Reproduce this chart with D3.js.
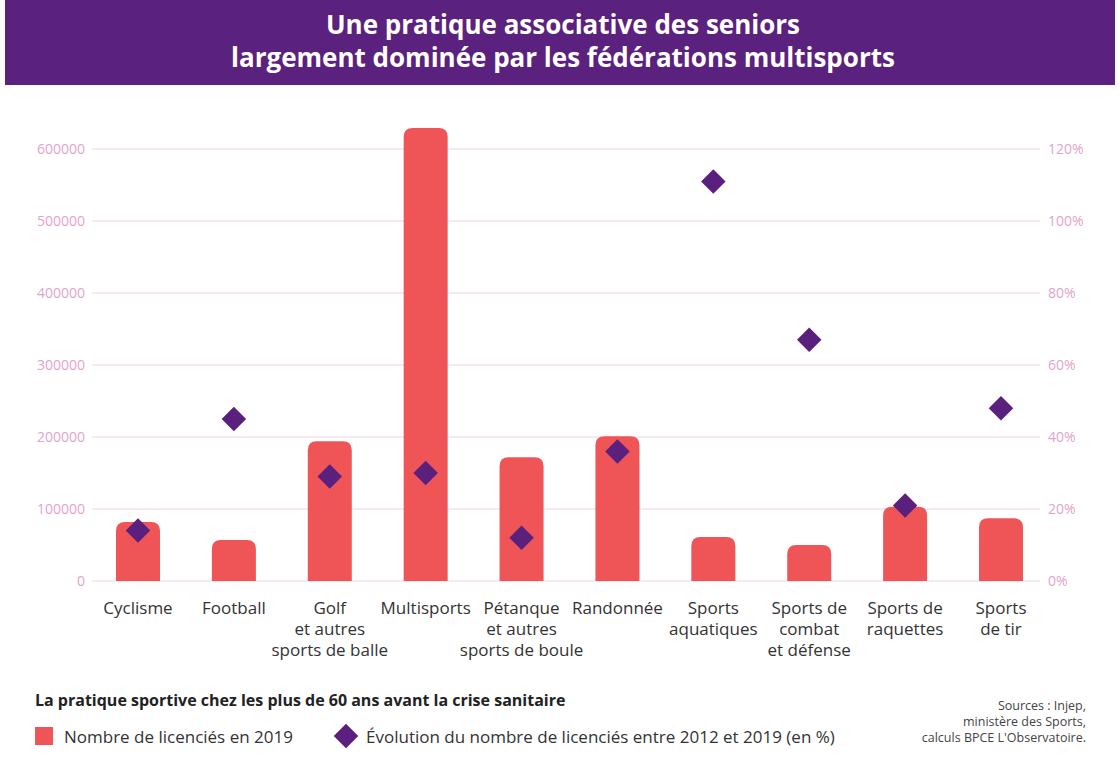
<!DOCTYPE html>
<html><head><meta charset="utf-8">
<script src="https://cdn.jsdelivr.net/npm/d3@7"></script>
<style>body{margin:0;background:#fff;font-family:"Open Sans",sans-serif;}</style>
</head><body><div id="chart"></div>
<script>
let categories = [["Cyclisme"],["Football"],["Golf","et autres","sports de balle"],["Multisports"],["Pétanque","et autres","sports de boule"],["Randonnée"],["Sports","aquatiques"],["Sports de","combat","et défense"],["Sports de","raquettes"],["Sports","de tir"]];
let licencies = [82000, 57000, 194000, 629000, 172000, 201000, 61000, 50000, 103000, 87000];
let evolution = [14, 45, 29, 30, 12, 36, 111, 67, 21, 48];
let leftTicks = [0,100000,200000,300000,400000,500000,600000];
let rightTicks = [0,20,40,60,80,100,120];

let svgWidth = 1120, svgHeight = 783;
let svg = d3.select("#chart").append("svg").attr("width",svgWidth).attr("height",svgHeight);

// title banner
svg.append("rect").attr("x",5).attr("y",0).attr("width",1110).attr("height",85).attr("fill","#5a217e");
svg.append("text").attr("x",563).attr("y",34).attr("text-anchor","middle").attr("fill","#fff")
  .attr("font-size",26).attr("font-weight","bold").text("Une pratique associative des seniors");
svg.append("text").attr("x",563).attr("y",67).attr("text-anchor","middle").attr("fill","#fff")
  .attr("font-size",26).attr("font-weight","bold").text("largement dominée par les fédérations multisports");

// centers of categories
let x = d3.scalePoint().domain(d3.range(categories.length)).range([138,1001]);
let barW = 44;
let y = d3.scaleLinear().domain([0,600000]).range([581,149]);
let y2 = d3.scaleLinear().domain([0,120]).range([581,149]);

// gridlines
svg.append("g").selectAll("line").data(leftTicks).enter().append("line")
  .attr("x1",92).attr("x2",1040).attr("y1",d=>y(d)).attr("y2",d=>y(d))
  .attr("stroke","#ecd3e2").attr("stroke-width",1);
svg.append("g").selectAll("text").data(leftTicks).enter().append("text")
  .attr("x",85).attr("y",d=>y(d)+5).attr("text-anchor","end").attr("fill","#e2a3cb").attr("font-size",14)
  .text(d=>d);
svg.append("g").selectAll("text").data(rightTicks).enter().append("text")
  .attr("x",1048).attr("y",d=>y2(d)+5).attr("fill","#e2a3cb").attr("font-size",14)
  .text(d=>d+"%");

// bars with rounded tops
let r = 9;
svg.append("g").selectAll("path").data(licencies).enter().append("path")
  .attr("fill","#ef5557")
  .attr("d",(d,i)=>{
    let x0 = x(i)-barW/2, w = barW, top = y(d), b = y(0);
    return `M${x0},${b}V${top+r}Q${x0},${top} ${x0+r},${top}H${x0+w-r}Q${x0+w},${top} ${x0+w},${top+r}V${b}Z`;
  });

// diamonds
svg.append("g").selectAll("path").data(evolution).enter().append("path")
  .attr("fill","#5b1f7e")
  .attr("d",d3.symbol().type(d3.symbolSquare).size(300))
  .attr("transform",(d,i)=>`translate(${x(i)},${y2(d)}) rotate(45)`);

// category labels
let lab = svg.append("g").selectAll("text").data(categories).enter().append("text")
  .attr("text-anchor","middle").attr("fill","#333").attr("font-size",17)
  .attr("x",(d,i)=>x(i)).attr("y",614);
lab.selectAll("tspan").data(d=>d).enter().append("tspan")
  .attr("x",function(){return this.parentNode.getAttribute("x");})
  .attr("dy",(d,j)=>j===0?0:21).text(d=>d);

// footer
svg.append("text").attr("x",35).attr("y",706).attr("font-size",16).attr("font-weight","bold").attr("fill","#222")
  .text("La pratique sportive chez les plus de 60 ans avant la crise sanitaire");
svg.append("rect").attr("x",35).attr("y",727).attr("width",18).attr("height",18).attr("fill","#ef5557");
svg.append("text").attr("x",64).attr("y",743).attr("font-size",17).attr("fill","#333").text("Nombre de licenciés en 2019");
svg.append("path").attr("fill","#5b1f7e").attr("d",d3.symbol().type(d3.symbolSquare).size(300))
  .attr("transform","translate(346,736) rotate(45)");
svg.append("text").attr("x",366).attr("y",743).attr("font-size",17).attr("fill","#333")
  .text("Évolution du nombre de licenciés entre 2012 et 2019 (en %)");
["Sources : Injep,","ministère des Sports,","calculs BPCE L'Observatoire."].forEach((t,i)=>{
  svg.append("text").attr("x",1086).attr("y",710+i*16).attr("text-anchor","end").attr("font-size",12.5).attr("fill","#444").text(t);
});
</script></body></html>
